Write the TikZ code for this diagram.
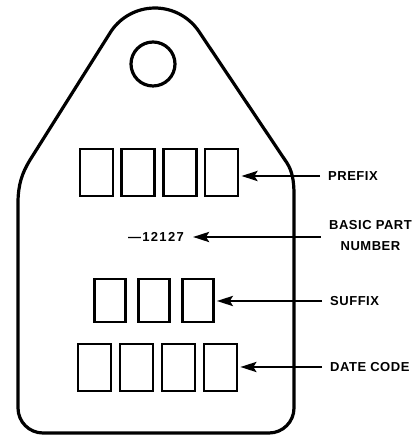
\documentclass[tikz,border=0pt]{standalone}
\usepackage{fontspec}
\setmainfont{Liberation Sans}
\usetikzlibrary{arrows.meta}

\begin{document}
\begin{tikzpicture}[x=1pt, y=1pt,
    cell/.style={draw, line width=2.6pt, minimum width=33pt, minimum height=47pt, inner sep=0pt},
    callout/.style={font=\bfseries\fontsize{13}{20.5}\selectfont\addfontfeature{LetterSpace=4},
        inner sep=0pt, anchor=west},
    pointer/.style={line width=2.8pt, -{Stealth[length=16pt, width=10pt, inset=3pt]},
        shorten <=8pt, shorten >=2pt}]
    \useasboundingbox (0,0) rectangle (416,435);
    % tag outline
    \draw[line width=3.2pt, line join=round]
        (110,402) -- (30,275) .. controls (22,262) and (18,250) .. (18,232)
        -- (18,27) arc[start angle=180, end angle=270, radius=25] -- (269,2)
        arc[start angle=270, end angle=360, radius=25] -- (294,240)
        .. controls (294,255) and (292,264) .. (287,272)
        -- (198.6,404) arc[start angle=34.5, end angle=148, radius=53] -- cycle;
    % hole
    \draw[line width=3.2pt] (153,371) circle[radius=22];
    % character boxes
    \foreach \i in {1,...,4}
        \node[cell] (pfx\i) at ({96.5+41.7*(\i-1)},262.5) {};
    \foreach \i in {1,...,3}
        \node[cell, minimum width=31pt, minimum height=43pt] (sfx\i) at ({110+44*(\i-1)},134.5) {};
    \foreach \i in {1,...,4}
        \node[cell] (date\i) at ({94.5+42*(\i-1)},67.5) {};
    % labels
    \node[callout] (prefix) at (328,259) {PREFIX};
    \node[callout, align=center, anchor=center] (basic) at (370.5,199.5) {BASIC PART\\NUMBER};
    \node[callout, anchor=east, font=\bfseries\fontsize{13}{20}\selectfont\addfontfeature{LetterSpace=10}]
        (partno) at (184,198) {\textemdash12127};
    \node[callout] (suffix) at (330,134) {SUFFIX};
    \node[callout] (datecode) at (330,68) {DATE CODE};
    % pointers
    \draw[pointer] (prefix.west) -- (prefix.west -| pfx4.east);
    \draw[pointer, shorten >=9pt] (basic.west |- partno.east) -- (partno.east);
    \draw[pointer] (suffix.west) -- (suffix.west -| sfx3.east);
    \draw[pointer] (datecode.west) -- (datecode.west -| date4.east);
\end{tikzpicture}
\end{document}
